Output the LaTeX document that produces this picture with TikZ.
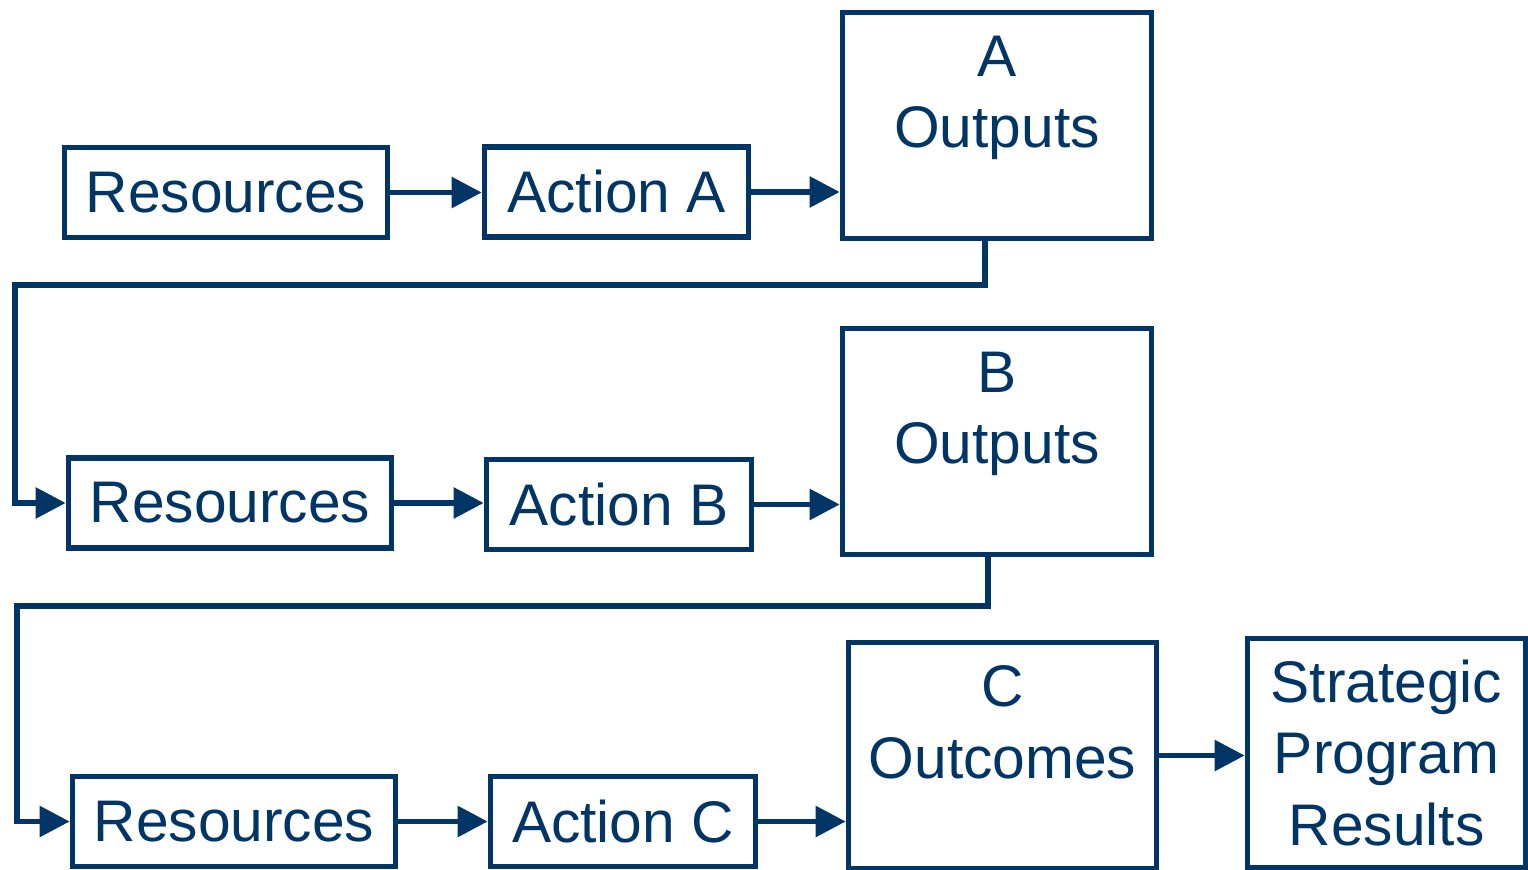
\documentclass[tikz,border=0pt]{standalone}
\usepackage{fontspec}
\setmainfont{Liberation Sans}
\usetikzlibrary{arrows.meta}
\definecolor{deepblue}{RGB}{0,53,102}
\tikzset{
    every node/.style={inner sep=0mm, text=deepblue, font=\fontsize{16.7}{20.3}\selectfont}
}
\tikzset{
    box/.style={rectangle, draw=deepblue, line width=1.6pt, minimum height=0.9cm},
    arr/.style={draw=deepblue, line width=1.6pt, -{Triangle[length=3mm, width=3mm]}}
}

\begin{document}
\begin{tikzpicture}
    \useasboundingbox (0cm, 0cm) rectangle (15.28cm, -8.69cm);

    \node (r1) [box, minimum width=3.23cm] at (2.26cm, -1.925cm) {Resources};
    \node (a1) [box, minimum width=2.64cm] at (6.165cm, -1.92cm) {Action A};
    \node (o1) [box, minimum width=3.09cm, minimum height=2.26cm] at (9.97cm, -1.255cm) {};
    \node (t1) [anchor=north, align=center] at ([yshift=-0.255cm]o1.north) {A\\Outputs};

    \node (r2) [box, minimum width=3.23cm] at (2.30cm, -5.03cm) {Resources};
    \node (a2) [box, minimum width=2.65cm] at (6.19cm, -5.045cm) {Action B};
    \node (o2) [box, minimum width=3.09cm, minimum height=2.26cm] at (9.97cm, -4.415cm) {};
    \node (t2) [anchor=north, align=center] at ([yshift=-0.255cm]o2.north) {B\\Outputs};

    \node (r3) [box, minimum width=3.23cm] at (2.34cm, -8.215cm) {Resources};
    \node (a3) [box, minimum width=2.65cm] at (6.23cm, -8.215cm) {Action C};
    \node (o3) [box, minimum width=3.08cm, minimum height=2.26cm] at (10.025cm, -7.555cm) {};
    \node (t3) [anchor=north, align=center] at ([yshift=-0.255cm]o3.north) {C\\Outcomes};
    \node (s) [box, align=center, minimum width=2.78cm, minimum height=2.29cm] at (13.865cm, -7.53cm) {Strategic\\Program\\Results};

    \coordinate (k1) at (0.15cm, -2.85cm);
    \coordinate (k2) at (0.17cm, -6.06cm);

    \draw [arr] (r1.east) -- (r1.east -| a1.west);
    \draw [arr] (a1.east) -- (a1.east -| o1.west);
    \draw [arr] ([xshift=-0.12cm]o1.south) |- (k1) |- (r2.west);

    \draw [arr] (r2.east) -- (r2.east -| a2.west);
    \draw [arr] (a2.east) -- (a2.east -| o2.west);
    \draw [arr] ([xshift=-0.09cm]o2.south) |- (k2) |- (r3.west);

    \draw [arr] (r3.east) -- (r3.east -| a3.west);
    \draw [arr] (a3.east) -- (a3.east -| o3.west);
    \draw [arr] (o3.east) -- (o3.east -| s.west);
\end{tikzpicture}
\end{document}
